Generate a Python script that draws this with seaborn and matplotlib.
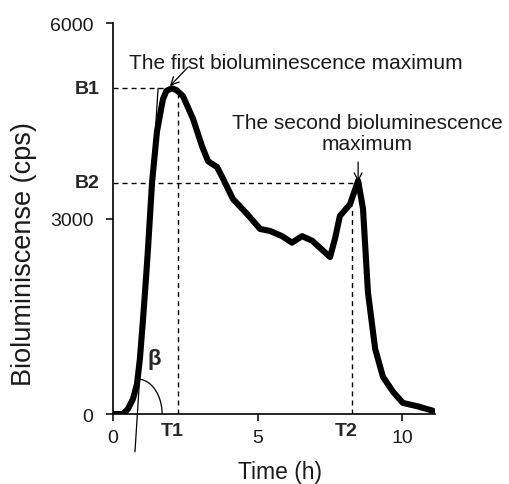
import matplotlib
matplotlib.use("Agg")
import matplotlib.pyplot as plt
import matplotlib.transforms as mtransforms
import seaborn as sns
import pandas as pd
import numpy as np

# ---- data ----
time_h = [0, 0.35, 0.52, 0.69, 0.83, 0.93, 1.04, 1.14, 1.21, 1.28, 1.35, 1.52, 1.63,
          1.73, 1.85, 2.04, 2.20, 2.42, 2.77, 3.08, 3.29, 3.60, 3.81, 4.15, 4.64,
          5.09, 5.43, 5.85, 6.19, 6.54, 6.89, 7.51, 7.68, 7.85, 8.20, 8.48, 8.65,
          8.82, 9.07, 9.34, 9.69, 10.03, 10.52, 11.07]
cps = [0, 0, 80, 230, 460, 845, 1460, 2070, 2530, 3040, 3550, 4330, 4600,
       4835, 4960, 5000, 4970, 4880, 4530, 4110, 3880, 3790, 3610, 3300, 3070,
       2840, 2810, 2730, 2630, 2730, 2660, 2410, 2690, 3040, 3220, 3580, 3150,
       1870, 1000, 570, 340, 170, 120, 50]

x_ticks = [0, 5, 10]
y_ticks = [0, 3000, 6000]
y_tick_labels = ["0", "3000", "6000"]

T1, T2 = 2.25, 8.27
B1, B2 = 5000, 3550
peak1_t, peak2_t = 2.04, 8.48
tangent_t = [0.76, 1.56]
tangent_y = [-580, 5000]

df = pd.DataFrame({"Time (h)": time_h, "cps": cps})

sns.set_theme(style="ticks")
plt.rcParams["font.family"] = ["Liberation Sans", "DejaVu Sans"]

fig = plt.figure(figsize=(5.09, 4.85), dpi=100)
ax = fig.add_axes([0.222, 0.1443, 0.6326, 0.806])

sns.lineplot(data=df, x="Time (h)", y="cps", ax=ax, color="black",
             linewidth=4.4, sort=False, estimator=None, solid_joinstyle="round",
             solid_capstyle="round")

ax.set_xlim(0, 11.14)
ax.set_ylim(0, 6000)
ax.set_xticks(x_ticks)
ax.set_yticks(y_ticks)
ax.set_yticklabels(y_tick_labels)
ax.tick_params(axis="both", labelsize=14, length=5, width=1.1, color="black",
               labelcolor="#1a1a1a")
ax.tick_params(axis="x", pad=6)
ax.tick_params(axis="y", pad=9)
for side in ("top", "right"):
    ax.spines[side].set_visible(False)
for side in ("left", "bottom"):
    ax.spines[side].set_linewidth(1.2)
    ax.spines[side].set_color("black")

ax.set_xlabel("Time (h)", fontsize=16.5, color="#1a1a1a")
ax.set_ylabel("Bioluminiscense (cps)", fontsize=19.5, color="#1a1a1a")
ax.xaxis.set_label_coords(0.519, -0.118)
ax.yaxis.set_label_coords(-0.236, 0.412)

dash = dict(color="black", linewidth=1.0, linestyle=(0, (3.6, 2.9)))
ax.plot([0, peak1_t], [B1, B1], **dash)
ax.plot([T1, T1], [0, B1], **dash)
ax.plot([0, peak2_t], [B2, B2], **dash)
ax.plot([T2, T2], [0, 3200], **dash)

# tangent line and beta angle arc
ax.plot(tangent_t, tangent_y, color="black", linewidth=0.9, clip_on=False)
arc_center = (0.843, 0)
arc_rx, arc_ry = 0.855, 537
theta = np.radians(np.linspace(0, 84, 60))
ax.plot(arc_center[0] + arc_rx * np.cos(theta),
        arc_center[1] + arc_ry * np.sin(theta),
        color="black", linewidth=0.9)
ax.text(1.42, 845, "β", fontsize=16, fontweight="bold", ha="center", va="center")

# landmark labels
trans_y = mtransforms.blended_transform_factory(ax.transAxes, ax.transData)
ax.text(-0.043, B1, "B1", transform=trans_y, ha="right", va="center",
        fontsize=14, fontweight="bold")
ax.text(-0.043, B2, "B2", transform=trans_y, ha="right", va="center",
        fontsize=14, fontweight="bold")
ax.text(2.04, -130, "T1", ha="center", va="top", fontsize=14, fontweight="bold")
ax.text(8.08, -130, "T2", ha="center", va="top", fontsize=14, fontweight="bold")

# annotations
ax.text(6.33, 5311, "The first bioluminescence maximum", ha="center",
        va="baseline", fontsize=15, color="#1a1a1a")
ax.text(8.79, 4068, "The second bioluminescence\nmaximum", ha="center",
        va="baseline", fontsize=15, linespacing=1.15, color="#1a1a1a",
        multialignment="center")
ax.annotate("", xy=(1.97, 5035), xytext=(2.60, 5326),
            arrowprops=dict(arrowstyle="->", color="black", lw=0.9,
                            shrinkA=0, shrinkB=0, mutation_scale=14))
ax.annotate("", xy=(8.48, 3561), xytext=(8.48, 3868),
            arrowprops=dict(arrowstyle="->", color="black", lw=0.9,
                            shrinkA=0, shrinkB=0, mutation_scale=14))

fig.savefig("out.png", dpi=100)
